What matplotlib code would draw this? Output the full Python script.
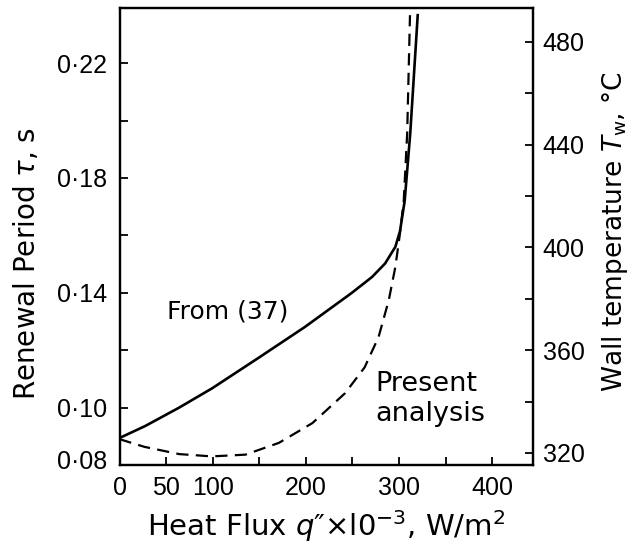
import matplotlib
matplotlib.use("Agg")
import matplotlib.pyplot as plt
import matplotlib.transforms as mtransforms

plt.rcParams['font.family'] = ['DejaVu Sans']
plt.rcParams['mathtext.fontset'] = 'dejavusans'

# Data (heat flux q'' x 1e-3 W/m2, renewal period tau s)
q_from37 = [0, 27.7, 63.5, 99.3, 150, 199, 249, 271, 285, 296, 301, 306, 312, 320]
tau_from37 = [0.0894, 0.0936, 0.0999, 0.1067, 0.1175, 0.1281, 0.1399, 0.1455,
              0.1502, 0.1560, 0.1615, 0.1720, 0.1956, 0.2367]

q_present = [0, 27, 64, 99, 135, 171, 207, 242, 263, 278, 289, 296, 301, 305, 308.7, 311.7]
tau_present = [0.0890, 0.0863, 0.0838, 0.0830, 0.0836, 0.0877, 0.0946, 0.1050,
               0.1140, 0.1246, 0.1375, 0.1490, 0.1608, 0.1720, 0.1956, 0.2367]

x_ticks = [0, 50, 100, 150, 200, 250, 300, 350, 400]
x_ticklabels = ['0', '50', '100', '', '200', '', '300', '', '400']
y_ticks = [0.08, 0.10, 0.12, 0.14, 0.16, 0.18, 0.20, 0.22]
y_ticklabels = ['0·08', '0·10', '', '0·14', '', '0·18', '', '0·22']
t_ticks = [320, 340, 360, 380, 400, 420, 440, 460, 480]
t_ticklabels = ['320', '', '360', '', '400', '', '440', '', '480']

TICKFONT = 'Liberation Sans'

W, H = 643, 553
fig = plt.figure(figsize=(W / 100, H / 100), dpi=100)
L, R, B, T = 119.5, 533, 465, 8
ax = fig.add_axes([L / W, (H - B) / H, (R - L) / W, (B - T) / H])

ax.plot(q_from37, tau_from37, color='black', lw=1.9, solid_joinstyle='round')
ax.plot(q_present, tau_present, color='black', lw=1.6, linestyle=(0, (5.5, 3.3)))

ax.set_xlim(0, 443.7)
ax.set_ylim(0.08, 0.2392)

ax.set_xticks(x_ticks)
ax.set_xticklabels(x_ticklabels, fontfamily=TICKFONT)
ax.set_yticks(y_ticks)
ax.set_yticklabels(y_ticklabels, fontfamily=TICKFONT)

for s in ax.spines.values():
    s.set_linewidth(1.6)

ax.tick_params(axis='x', direction='in', length=6, width=1.3, labelsize=18, pad=8)
ax.tick_params(axis='y', direction='in', length=6, width=1.3, labelsize=18, pad=9)

# shift 0.08 label slightly up
lbl = ax.get_yticklabels()[0]
lbl.set_transform(lbl.get_transform() + mtransforms.ScaledTranslation(0, 4 / 72, fig.dpi_scale_trans))

ax2 = ax.twinx()
ax2.set_ylim(315.3, 493.2)
ax2.set_yticks(t_ticks)
ax2.set_yticklabels(t_ticklabels, fontfamily=TICKFONT)
ax2.tick_params(axis='y', direction='in', length=6, width=1.3, labelsize=18, pad=7)
for s in ax2.spines.values():
    s.set_linewidth(1.6)

ax.set_xlabel("Heat Flux $q$\u2033×l0$^{-3}$, W/m$^2$", fontsize=21, labelpad=6)
ax.set_ylabel(r"Renewal Period $\tau$, s", fontsize=20)
ax.yaxis.set_label_coords(-0.19, 0.44)
ax2.set_ylabel(r"Wall temperature $T_{\rm w}$, °C", fontsize=19)
ax2.yaxis.set_label_coords(1.163, 0.51)

ax.text(51, 0.1336, "From (37)", fontsize=18, ha='left', va='center')
ax.text(275, 0.1127, "Present\nanalysis", fontsize=19.5, ha='left', va='top', linespacing=1.2)

fig.savefig("out.png", dpi=100)
